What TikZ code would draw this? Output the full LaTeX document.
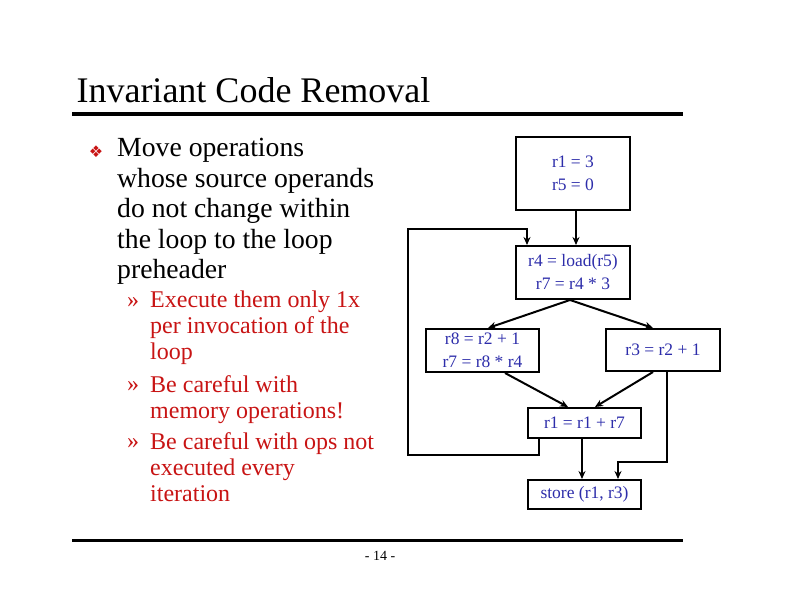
\documentclass[tikz,border=0pt]{standalone}
\usepackage{fontspec}
\setmainfont{Liberation Serif}
\newfontfamily\djv{DejaVu Sans}
\usetikzlibrary{arrows.meta}
\definecolor{boxblue}{RGB}{45,45,170}
\definecolor{subred}{RGB}{200,20,20}
\begin{document}
\begin{tikzpicture}[x=1pt,y=-1pt,
  blk/.style={draw,line width=2pt,minimum width=114pt,inner sep=0pt,text=boxblue,font=\fontsize{17.5}{23}\selectfont,align=center},
  wire/.style={line width=2pt,-{Stealth[length=8pt,width=7pt]}},
  sub/.style={anchor=north west,inner sep=0pt,align=left,text=subred,font=\fontsize{24}{26}\selectfont}]
\useasboundingbox (0,0) rectangle (792,612);
\node[anchor=base west,font=\fontsize{36}{38}\selectfont] (title) at (73,103) {Invariant Code Removal};
\draw[line width=4pt] (72,114) -- (683,114);
\draw[line width=3pt] (72,540) -- (683,540);
\node[font=\fontsize{14}{16}\selectfont] (pg) at (380,556) {- 14 -};
\node[anchor=base,text=subred,font=\djv\fontsize{16}{16}\selectfont] (bul) at (96,158) {❖};
\node[anchor=north west,inner sep=0pt,align=left,font=\fontsize{27.7}{30.5}\selectfont] (main) at (117,138)
 {Move operations\\whose source operands\\do not change within\\the loop to the loop\\preheader};
\node[sub] (m1) at (127,291) {\vphantom{Exl}»};
\node[sub] (s1) at (150,291) {Execute them only 1x\\per invocation of the\\loop};
\node[sub] (m2) at (127,375) {\vphantom{Exl}»};
\node[sub] (s2) at (150,375) {Be careful with\\memory operations!};
\node[sub] (m3) at (127,432) {\vphantom{Exl}»};
\node[sub] (s3) at (150,432) {Be careful with ops not\\executed every\\iteration};
\node[blk,minimum height=73pt] (b1) at (573,173.5) {r1 = 3\\r5 = 0};
\node[blk,minimum height=53pt] (b2) at (573,272.5) {r4 = load(r5)\\r7 = r4 * 3};
\node[blk,minimum width=113pt,minimum height=43pt] (b3) at (482.5,350.5) {r8 = r2 + 1\\r7 = r8 * r4};
\node[blk,minimum height=42pt] (b4) at (663,350) {r3 = r2 + 1};
\node[blk,minimum width=113pt,minimum height=30pt] (b5) at (584.5,423) {r1 = r1 + r7};
\node[blk,minimum width=113pt,minimum height=29pt] (b6) at (584.5,494.5) {store (r1, r3)};
\draw[wire] (b1.south -| 576,0) -- (b2.north -| 576,0);
\draw[wire] (b2.south -| 570,0) -- (b3.north -| 488,0);
\draw[wire] (b2.south -| 570,0) -- (b4.north -| 653,0);
\draw[wire] (b3.south -| 505,0) -- (b5.north -| 568,0);
\draw[wire] (b4.south -| 653,0) -- (b5.north -| 595,0);
\draw[wire] (b5.south -| 582,0) -- (b6.north -| 582,0);
\draw[wire] (b5.south -| 539,0) |- (408,455) |- (527,229) -- (b2.north -| 527,0);
\draw[wire] (b4.south -| 667,0) |- (618,462) -- (b6.north -| 618,0);
\end{tikzpicture}
\end{document}
